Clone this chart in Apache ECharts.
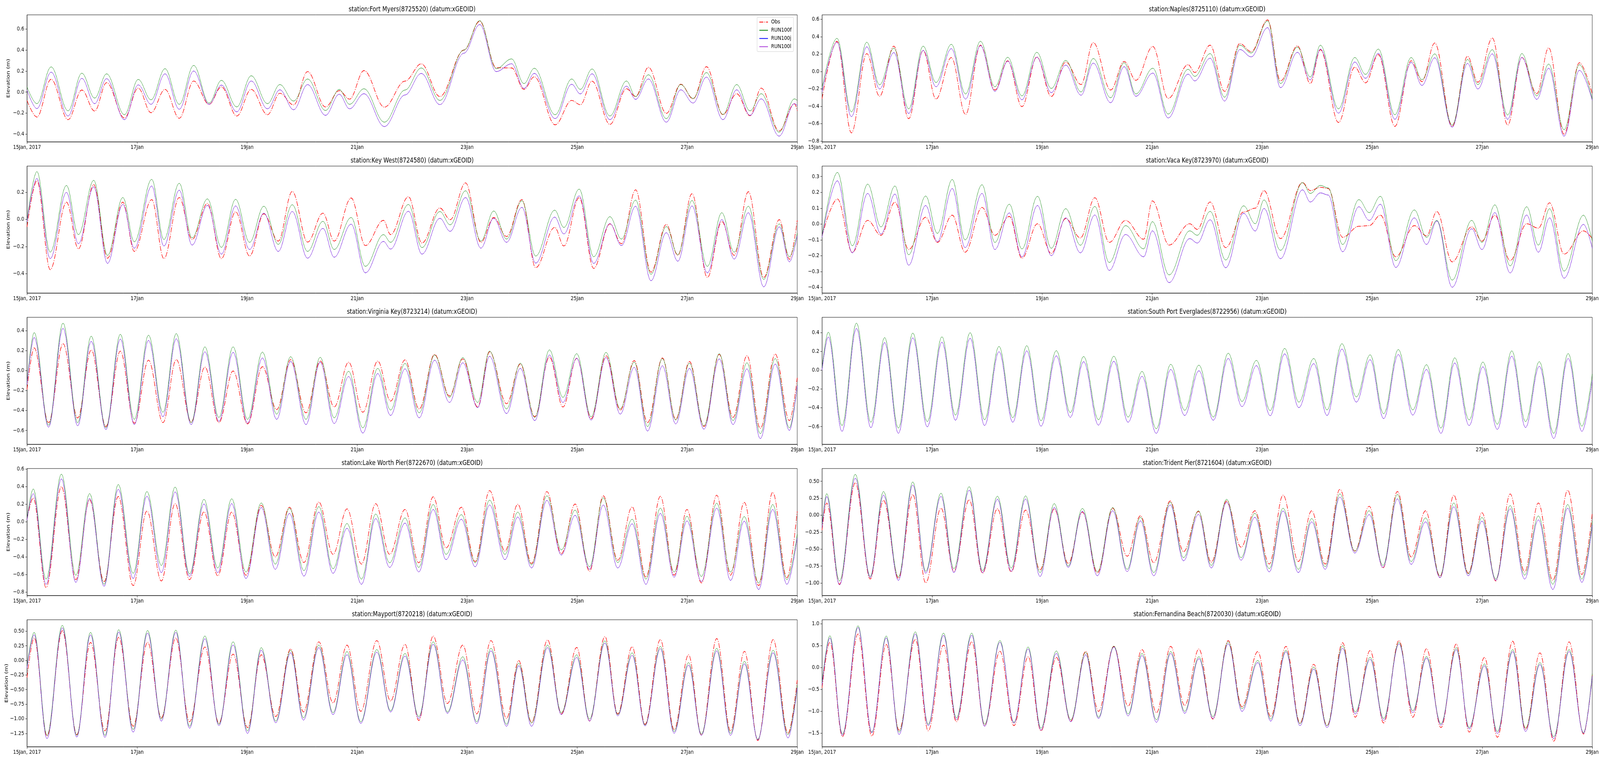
<!DOCTYPE html>
<html><head><meta charset="utf-8">
<script src="https://cdn.jsdelivr.net/npm/echarts@6/dist/echarts.min.js"></script>
<style>html,body{margin:0;padding:0;background:#fff;overflow:hidden}#c{width:5150px;height:1950px;transform-origin:0 0}</style>
</head><body><div id="c"></div>
<script>
// ---------- DATA (hours since 15 Jan 2017 00:00, elevation in m) ----------
const xTickHours = [0, 48, 96, 144, 192, 240, 288, 336];
const xTickLabels = ["15Jan, 2017", "17Jan", "19Jan", "21Jan", "23Jan", "25Jan", "27Jan", "29Jan"];
const seriesNames = ["Obs", "RUN100f", "RUN100j", "RUN100l"];
const stationTitles = [
  "station:Fort Myers(8725520) (datum:xGEOID)",
  "station:Naples(8725110) (datum:xGEOID)",
  "station:Key West(8724580) (datum:xGEOID)",
  "station:Vaca Key(8723970) (datum:xGEOID)",
  "station:Virginia Key(8723214) (datum:xGEOID)",
  "station:South Port Everglades(8722956) (datum:xGEOID)",
  "station:Lake Worth Pier(8722670) (datum:xGEOID)",
  "station:Trident Pier(8721604) (datum:xGEOID)",
  "station:Mayport(8720218) (datum:xGEOID)",
  "station:Fernandina Beach(8720030) (datum:xGEOID)"
];

// Fort Myers
const fortMyersT = [0,4.3,10.5,17.9,23.9,29.5,34.7,42.5,48.5,54.1,60.2,66.4,72.7,79.4,84.8,91.5,97.8,104.9,110.3,116.3,122.4,130.2,136.2,140.7,147.0,155.9,164.9,172.0,180.1,190.6,197.5,204.7,211.4,216.8,221.3,230.4,237.6,241.4,246.5,254.3,261.5,265.5,271.1,278.9,285.2,290.6,296.4,303.6,309.6,315.4,320.3,328.1,334.8,336];
const fortMyersObs = [-0.08,-0.237,0.122,-0.262,0.02,-0.18,0.09,-0.246,0.038,-0.196,0.026,-0.249,0.106,-0.116,0.05,-0.227,0.026,-0.215,-0.011,-0.122,0.195,-0.141,0.014,-0.067,0.205,-0.143,0.105,0.269,-0.042,0.40,0.674,0.232,0.23,0.026,0.146,-0.311,-0.079,-0.12,0.104,-0.307,0.032,-0.042,0.236,-0.202,0.075,-0.064,0.242,-0.215,-0.015,-0.225,0.038,-0.369,-0.11,-0.178];
const fortMyersF = [0.05,-0.11,0.24,-0.178,0.18,-0.057,0.174,-0.215,0.121,-0.073,0.223,-0.116,0.254,-0.104,0.112,-0.141,0.156,-0.11,0.072,-0.085,0.125,-0.175,0.026,-0.116,0.032,-0.286,0.02,0.23,-0.079,0.40,0.68,0.223,0.316,0.081,0.227,-0.215,0.125,0.026,0.22,-0.227,0.106,-0.042,0.165,-0.252,0.072,-0.06,0.186,-0.212,0.072,-0.178,-0.015,-0.381,-0.064,-0.079];
const fortMyersL = [0.02,-0.157,0.19,-0.227,0.131,-0.11,0.128,-0.262,0.069,-0.116,0.174,-0.163,0.201,-0.116,0.067,-0.188,0.106,-0.159,0.022,-0.168,0.072,-0.221,-0.02,-0.159,-0.015,-0.328,-0.027,0.178,-0.119,0.37,0.643,0.195,0.27,0.035,0.178,-0.252,0.075,-0.017,0.174,-0.262,0.057,-0.069,0.125,-0.286,0.022,-0.104,0.143,-0.262,0.022,-0.221,-0.064,-0.419,-0.11,-0.128];
const fortMyersJ = fortMyersL;

// Naples
const naplesT = [0,6.5,12.8,19.5,25.1,31.3,37.8,44.1,49.7,56.4,62.6,69.1,75.4,81.0,87.2,93.7,100.0,106.3,113.0,118.3,125.9,131.8,136.9,144.3,151.0,159.7,162.6,169.3,175.6,182.3,187.2,194.4,200.0,207.4,213.0,217.4,225.3,232.4,237.1,242.7,249.9,257.0,261.7,267.3,274.9,281.6,286.1,292.4,299.1,305.3,311.8,317.0,323.7,330.4,336];
const naplesObs = [-0.315,0.347,-0.707,0.205,-0.286,0.291,-0.543,0.242,-0.318,0.16,-0.495,0.302,-0.214,0.123,-0.405,0.167,-0.288,0.108,-0.151,0.332,-0.214,0.115,-0.102,0.287,-0.311,0.078,-0.012,0.302,-0.229,0.321,0.227,0.593,-0.109,0.294,-0.139,0.25,-0.587,0.048,-0.131,0.193,-0.632,0.123,-0.117,0.327,-0.632,0.175,-0.124,0.384,-0.617,0.16,-0.256,0.272,-0.722,0.1,-0.259];
const naplesF = [-0.19,0.381,-0.465,0.336,-0.154,0.268,-0.43,0.291,-0.127,0.312,-0.259,0.347,-0.176,0.163,-0.281,0.22,-0.196,0.127,-0.236,0.149,-0.303,0.1,-0.259,0.037,-0.49,0.025,-0.057,0.205,-0.296,0.302,0.212,0.581,-0.139,0.28,-0.064,0.302,-0.43,0.16,-0.034,0.257,-0.498,0.16,-0.094,0.202,-0.617,0.138,-0.151,0.25,-0.501,0.205,-0.281,0.085,-0.67,0.078,-0.318];
const naplesL = [-0.236,0.336,-0.52,0.283,-0.202,0.217,-0.483,0.242,-0.176,0.262,-0.318,0.297,-0.229,0.118,-0.326,0.163,-0.244,0.073,-0.274,0.096,-0.36,0.055,-0.286,-0.019,-0.535,-0.031,-0.109,0.152,-0.341,0.253,0.167,0.504,-0.187,0.22,-0.097,0.257,-0.48,0.108,-0.079,0.208,-0.55,0.103,-0.161,0.157,-0.64,0.093,-0.202,0.202,-0.55,0.16,-0.321,0.037,-0.744,0.013,-0.333];
const naplesJ = naplesL;

// Key West
const keyWestT = [0,4.3,10.1,17.2,22.4,29.1,35.1,41.8,46.8,54.4,59.7,66.4,72.0,78.7,84.8,91.0,97.1,103.3,109.6,115.7,122.4,129.1,134.0,141.4,147.6,155.5,158.6,166.4,172.3,180.1,184.6,191.3,198.0,203.6,209.2,215.9,221.9,230.2,234.2,240.9,247.2,254.3,259.3,265.5,272.2,278.9,283.9,290.1,296.8,303.1,308.5,314.7,321.4,328.2,332.6,336];
const keyWestObs = [-0.055,0.285,-0.37,0.127,-0.217,0.256,-0.286,0.127,-0.236,0.146,-0.289,0.161,-0.148,0.118,-0.289,0.056,-0.27,0.041,-0.16,0.206,-0.167,0.046,-0.16,0.158,-0.193,-0.007,-0.112,0.167,-0.174,0.084,-0.002,0.269,-0.169,0.014,-0.126,0.146,-0.356,-0.059,-0.196,0.161,-0.361,-0.033,-0.179,0.218,-0.389,-0.037,-0.265,0.189,-0.428,-0.016,-0.265,0.204,-0.428,-0.002,-0.294,-0.007];
const keyWestF = [-0.007,0.352,-0.241,0.25,-0.112,0.288,-0.265,0.161,-0.165,0.295,-0.148,0.266,-0.136,0.151,-0.206,0.148,-0.169,0.097,-0.184,0.108,-0.236,-0.014,-0.222,0.014,-0.346,-0.112,-0.169,0.11,-0.208,0.058,-0.04,0.211,-0.16,0.062,-0.145,0.137,-0.27,0.068,-0.059,0.223,-0.275,0.02,-0.145,0.142,-0.404,-0.053,-0.26,0.139,-0.346,0.049,-0.241,0.097,-0.442,-0.033,-0.275,-0.102];
const keyWestL = [-0.016,0.301,-0.289,0.199,-0.179,0.24,-0.324,0.11,-0.212,0.246,-0.196,0.215,-0.189,0.103,-0.256,0.099,-0.222,0.046,-0.236,0.058,-0.286,-0.066,-0.279,-0.035,-0.394,-0.162,-0.219,0.06,-0.256,0.008,-0.088,0.161,-0.212,0.008,-0.169,0.089,-0.322,0.017,-0.107,0.173,-0.324,-0.031,-0.193,0.097,-0.452,-0.098,-0.308,0.099,-0.394,-0.002,-0.292,0.049,-0.497,-0.055,-0.313,-0.122];
const keyWestJ = keyWestL;

// Vaca Key
const vacaKeyT = [0,6.7,13.2,19.9,25.7,31.8,37.8,45.2,50.3,56.8,62.4,69.8,75.4,81.7,87.2,94.0,100.0,106.3,112.7,119.0,125.3,132.4,140.3,144.1,151.4,160.4,163.7,169.3,176.1,183.9,189.0,192.8,200.0,209.6,213.0,217.4,220.8,227.1,234.2,238.7,243.6,250.3,258.4,263.7,268.2,274.9,283.4,287.9,293.5,300.2,307.4,312.5,317.4,323.7,332.2,336];
const vacaKeyObs = [-0.075,0.158,-0.178,0.023,-0.071,0.138,-0.161,0.043,-0.116,0.056,-0.178,0.105,-0.071,0.048,-0.216,0.002,-0.186,0.035,-0.088,0.166,-0.116,0.023,-0.096,0.146,-0.133,0.002,-0.034,0.139,-0.149,0.076,0.1,0.211,-0.092,0.262,0.211,0.232,0.224,-0.084,-0.014,-0.01,0.056,-0.207,-0.01,-0.075,0.079,-0.239,-0.018,-0.108,0.056,-0.231,0.002,-0.026,0.134,-0.19,-0.043,-0.092];
const vacaKeyF = [-0.075,0.326,-0.137,0.252,-0.018,0.24,-0.194,0.177,-0.059,0.281,-0.1,0.248,-0.116,0.125,-0.157,0.175,-0.153,0.097,-0.134,0.111,-0.243,-0.01,-0.157,0.015,-0.321,-0.043,-0.071,0.08,-0.227,0.115,0.002,0.152,-0.166,0.261,0.193,0.244,0.228,-0.129,0.154,0.072,0.175,-0.231,0.089,-0.084,0.023,-0.354,0.023,-0.116,0.121,-0.264,0.109,-0.133,0.097,-0.297,0.056,-0.108];
const vacaKeyL = [-0.084,0.273,-0.182,0.193,-0.063,0.189,-0.26,0.117,-0.112,0.224,-0.149,0.193,-0.161,0.07,-0.207,0.117,-0.2,0.039,-0.182,0.057,-0.293,-0.066,-0.207,-0.043,-0.37,-0.092,-0.12,0.027,-0.276,0.068,-0.044,0.098,-0.219,0.216,0.139,0.197,0.183,-0.175,0.109,0.023,0.125,-0.274,0.039,-0.129,0.019,-0.399,-0.03,-0.161,0.072,-0.309,0.057,-0.178,0.039,-0.342,-0.002,-0.153];
const vacaKeyJ = vacaKeyL;

// Virginia Key
const virginiaKeyT = [0,3.1,9.4,15.7,22.1,28.0,34.4,40.7,46.8,53.0,59.3,65.1,71.6,77.6,83.7,89.9,96.2,102.7,108.9,115.0,121.7,127.9,134.0,140.3,146.5,153.0,158.6,164.9,171.1,177.8,184.3,190.1,196.6,201.8,209.2,215.2,221.5,227.9,233.8,239.8,246.1,252.6,258.8,264.9,270.7,277.2,283.0,289.0,295.3,302.0,308.0,314.1,319.9,326.4,332.6,336];
const virginiaKeyObs = [-0.19,0.226,-0.521,0.268,-0.475,0.206,-0.56,0.194,-0.527,0.103,-0.521,0.109,-0.514,0.034,-0.521,-0.005,-0.534,0.038,-0.391,0.109,-0.423,0.096,-0.365,0.083,-0.417,0.094,-0.306,0.106,-0.384,0.161,-0.255,0.116,-0.365,0.187,-0.332,0.064,-0.462,0.135,-0.365,0.122,-0.482,0.148,-0.397,0.099,-0.521,0.125,-0.488,0.09,-0.56,0.161,-0.469,0.148,-0.579,0.164,-0.501,-0.073];
const virginiaKeyF = [-0.125,0.379,-0.547,0.473,-0.521,0.343,-0.573,0.362,-0.488,0.353,-0.417,0.369,-0.521,0.236,-0.469,0.236,-0.488,0.184,-0.436,0.138,-0.488,0.132,-0.473,-0.008,-0.573,0.021,-0.395,0.07,-0.423,0.155,-0.268,0.129,-0.319,0.194,-0.384,0.073,-0.469,0.206,-0.268,0.168,-0.462,0.181,-0.384,0.083,-0.56,0.119,-0.495,0.073,-0.553,0.168,-0.501,0.077,-0.631,0.119,-0.573,-0.144];
const virginiaKeyL = [-0.138,0.33,-0.566,0.421,-0.553,0.291,-0.59,0.314,-0.54,0.301,-0.462,0.317,-0.54,0.187,-0.508,0.181,-0.527,0.125,-0.488,0.09,-0.54,0.083,-0.53,-0.06,-0.625,-0.031,-0.449,0.016,-0.473,0.103,-0.319,0.077,-0.371,0.142,-0.43,0.021,-0.501,0.155,-0.319,0.122,-0.495,0.129,-0.436,0.031,-0.605,0.047,-0.534,0.021,-0.586,0.116,-0.54,0.016,-0.681,0.064,-0.599,-0.151];
const virginiaKeyJ = virginiaKeyL;

// South Port Everglades (no observations)
const portEvergladesT = [0,2.7,8.7,15.0,21.3,27.3,33.3,39.6,45.9,52.3,58.2,64.6,70.9,77.2,83.2,89.3,95.5,102.2,108.3,114.1,120.6,127.3,133.5,139.6,145.8,152.1,158.2,164.4,170.7,177.2,183.2,189.5,195.5,201.8,208.0,214.5,220.3,226.8,233.1,239.1,245.0,251.4,257.7,263.7,270.0,276.0,282.3,288.3,294.6,300.9,306.9,312.9,319.2,325.5,331.5,336];
const portEvergladesObs = null;
const portEvergladesF = [0.028,0.404,-0.588,0.5,-0.553,0.346,-0.615,0.394,-0.546,0.354,-0.477,0.398,-0.526,0.252,-0.505,0.26,-0.537,0.207,-0.45,0.145,-0.526,0.148,-0.498,-0.014,-0.622,0.062,-0.426,0.053,-0.498,0.18,-0.332,0.104,-0.429,0.231,-0.339,0.124,-0.422,0.281,-0.284,0.163,-0.463,0.219,-0.422,0.058,-0.615,0.131,-0.528,0.086,-0.574,0.205,-0.546,0.09,-0.671,0.176,-0.595,-0.041];
const portEvergladesL = [0,0.353,-0.65,0.443,-0.611,0.293,-0.671,0.343,-0.602,0.297,-0.532,0.339,-0.588,0.196,-0.553,0.205,-0.595,0.152,-0.501,0.09,-0.584,0.094,-0.553,-0.066,-0.671,0.007,-0.481,-0.007,-0.532,0.124,-0.387,0.048,-0.484,0.173,-0.398,0.069,-0.481,0.224,-0.339,0.111,-0.515,0.166,-0.477,0.007,-0.671,0.076,-0.588,0.035,-0.629,0.149,-0.609,0.041,-0.726,0.124,-0.65,-0.11];
const portEvergladesJ = portEvergladesL;

// Lake Worth Pier
const lakeWorthT = [0,2.7,8.3,15.0,21.3,27.3,33.6,39.8,46.3,52.3,58.6,64.6,70.9,77.2,83.2,89.3,95.5,102.2,108.3,114.5,120.8,127.3,133.5,139.6,145.9,152.1,158.2,164.9,170.9,177.2,182.8,189.5,195.5,201.8,208.5,214.1,220.1,226.8,233.1,239.1,245.4,251.4,257.7,264.0,270.0,276.3,282.3,287.9,294.2,300.9,306.9,312.9,319.2,325.3,331.5,336];
const lakeWorthObs = [0.028,0.269,-0.747,0.397,-0.658,0.249,-0.68,0.286,-0.725,0.121,-0.673,0.205,-0.658,0.112,-0.614,0.109,-0.607,0.186,-0.4,0.165,-0.463,0.224,-0.37,0.146,-0.481,0.205,-0.37,0.139,-0.466,0.283,-0.297,0.164,-0.452,0.353,-0.334,0.198,-0.474,0.342,-0.363,0.201,-0.562,0.294,-0.437,0.168,-0.629,0.289,-0.607,0.139,-0.695,0.301,-0.607,0.22,-0.725,0.334,-0.636,0.117];
const lakeWorthF = [0.035,0.372,-0.651,0.54,-0.607,0.319,-0.71,0.422,-0.585,0.342,-0.496,0.393,-0.592,0.254,-0.525,0.26,-0.57,0.213,-0.481,0.154,-0.555,0.171,-0.533,-0.021,-0.651,0.087,-0.466,0.043,-0.518,0.195,-0.37,0.08,-0.466,0.245,-0.37,0.109,-0.489,0.294,-0.319,0.131,-0.511,0.272,-0.463,0.028,-0.651,0.154,-0.57,0.062,-0.621,0.21,-0.57,0.058,-0.695,0.195,-0.658,-0.142];
const lakeWorthL = [0.02,0.319,-0.71,0.486,-0.688,0.264,-0.732,0.368,-0.644,0.289,-0.577,0.338,-0.621,0.201,-0.577,0.205,-0.644,0.161,-0.54,0.094,-0.617,0.109,-0.585,-0.075,-0.71,0.035,-0.518,-0.016,-0.57,0.139,-0.43,0.028,-0.511,0.19,-0.43,0.053,-0.525,0.242,-0.378,0.072,-0.54,0.19,-0.525,-0.024,-0.71,0.094,-0.629,0.009,-0.68,0.154,-0.666,0.006,-0.769,0.139,-0.71,-0.186];
const lakeWorthJ = lakeWorthL;

// Trident Pier
const tridentT = [0,2.0,7.6,14.5,21.0,26.8,33.3,39.6,45.2,51.9,57.5,64.2,70.0,76.5,82.5,88.8,95.1,101.3,107.4,113.6,120.1,126.8,133.1,138.9,144.7,151.9,157.7,164.2,169.8,176.5,182.8,188.8,195.1,201.1,207.8,213.6,219.5,225.9,232.4,238.7,244.7,251.0,257.0,263.3,269.6,275.6,281.9,287.9,293.9,300.2,306.5,312.5,318.8,325.3,331.5,336];
const tridentObs = [-0.222,0.18,-1.017,0.477,-0.941,0.218,-0.931,0.305,-0.998,0.103,-0.826,0.228,-0.854,0.094,-0.835,0.075,-0.807,0.094,-0.711,0.046,-0.854,0.103,-0.605,-0.008,-0.701,0.209,-0.538,0.056,-0.692,0.209,-0.471,0.065,-0.72,0.295,-0.682,0.065,-0.72,0.381,-0.529,0.132,-0.778,0.349,-0.615,0.065,-0.912,0.295,-0.854,0.036,-0.969,0.314,-0.835,0.18,-0.96,0.368,-0.874,0.027];
const tridentF = [-0.146,0.318,-0.969,0.602,-0.902,0.349,-0.912,0.49,-0.826,0.324,-0.787,0.42,-0.816,0.28,-0.778,0.285,-0.845,0.17,-0.749,0.1,-0.835,0.113,-0.797,-0.031,-0.845,0.19,-0.625,0.065,-0.739,0.234,-0.625,0.027,-0.787,0.103,-0.797,-0.05,-0.759,0.314,-0.529,0.065,-0.739,0.305,-0.682,-0.04,-0.893,0.18,-0.864,-0.034,-0.941,0.142,-0.883,-0.011,-1.017,0.157,-0.941,-0.088];
const tridentL = [-0.18,0.276,-1.027,0.544,-0.921,0.295,-0.96,0.444,-0.854,0.276,-0.845,0.368,-0.845,0.234,-0.826,0.238,-0.902,0.113,-0.768,0.056,-0.893,0.065,-0.831,-0.084,-0.893,0.151,-0.672,0.011,-0.778,0.19,-0.663,-0.031,-0.835,0.061,-0.845,-0.098,-0.797,0.266,-0.557,0.008,-0.768,0.241,-0.724,-0.098,-0.921,0.123,-0.893,-0.088,-0.96,0.094,-0.941,-0.069,-1.094,0.103,-0.989,-0.146];
const tridentJ = tridentL;

// Mayport
const mayportT = [0,3.1,8.7,15.4,21.7,27.7,34.0,40.0,46.3,52.6,58.6,64.9,70.9,77.6,83.7,89.9,96.2,102.2,108.5,115.0,120.6,127.3,133.5,139.6,145.6,152.6,158.6,164.9,170.9,177.2,183.4,190.1,196.2,202.4,209.2,214.5,220.1,227.1,233.1,239.8,245.4,252.1,257.7,264.0,269.6,276.3,282.3,288.6,294.2,300.9,306.9,313.0,318.8,325.5,332.0,336];
const mayportObs = [-0.294,0.385,-1.294,0.507,-1.272,0.307,-1.206,0.396,-1.128,0.311,-0.983,0.385,-1.05,0.229,-1.072,0.107,-1.15,0.096,-0.961,0.196,-0.883,0.318,-0.727,0.262,-0.872,0.34,-0.694,0.274,-1.028,0.418,-0.738,0.262,-0.916,0.34,-0.994,-0.004,-1.061,0.351,-0.916,0.222,-1.039,0.407,-0.916,0.234,-1.094,0.356,-1.183,0.096,-1.277,0.374,-1.206,0.156,-1.372,0.356,-1.25,-0.338];
const mayportF = [-0.093,0.48,-1.283,0.6,-1.283,0.48,-1.283,0.525,-1.183,0.512,-1.005,0.518,-1.128,0.418,-1.094,0.318,-1.206,0.218,-1.039,0.173,-0.983,0.262,-0.894,0.151,-1.05,0.185,-0.861,0.118,-0.961,0.318,-0.883,0.062,-1.05,0.207,-1.094,-0.049,-1.072,0.262,-0.894,0.096,-1.005,0.334,-0.927,0.129,-1.105,0.24,-1.217,-0.038,-1.261,0.207,-1.25,-0.016,-1.35,0.173,-1.272,-0.427];
const mayportL = [-0.13,0.44,-1.339,0.556,-1.312,0.436,-1.317,0.485,-1.228,0.467,-1.039,0.48,-1.161,0.369,-1.117,0.262,-1.25,0.173,-1.068,0.129,-1.023,0.218,-0.927,0.096,-1.077,0.14,-0.883,0.073,-0.994,0.274,-0.905,0.007,-1.083,0.162,-1.128,-0.093,-1.128,0.218,-0.927,0.051,-1.039,0.296,-0.949,0.085,-1.121,0.2,-1.246,-0.082,-1.283,0.162,-1.283,-0.06,-1.361,0.129,-1.328,-0.472];
const mayportJ = mayportL;

// Fernandina Beach
const fernandinaT = [0,3.4,8.9,15.7,21.7,28.0,33.6,40.7,46.3,53.0,58.6,65.3,70.9,77.6,83.7,89.9,95.5,102.2,108.5,115.0,120.6,127.3,133.5,139.6,145.9,152.1,158.2,164.4,170.5,177.2,183.2,190.1,195.7,202.4,208.5,214.5,220.3,227.1,232.6,239.1,245.0,251.7,257.7,263.7,270.0,276.7,282.3,289.0,294.6,301.3,306.9,313.2,319.2,325.9,332.2,336];
const fernandinaObs = [-0.467,0.58,-1.581,0.767,-1.567,0.529,-1.433,0.648,-1.448,0.514,-1.24,0.589,-1.329,0.372,-1.329,0.247,-1.448,0.232,-1.225,0.372,-1.002,0.485,-0.883,0.41,-1.032,0.485,-0.868,0.425,-1.18,0.618,-0.898,0.366,-1.121,0.485,-1.269,0.074,-1.329,0.568,-1.136,0.389,-1.269,0.618,-1.136,0.431,-1.373,0.538,-1.477,0.232,-1.596,0.603,-1.418,0.336,-1.685,0.589,-1.522,-0.169];
const fernandinaF = [-0.348,0.728,-1.522,0.954,-1.477,0.722,-1.477,0.817,-1.299,0.788,-1.15,0.788,-1.299,0.618,-1.254,0.47,-1.388,0.38,-1.195,0.351,-1.136,0.49,-1.061,0.321,-1.195,0.366,-1.002,0.247,-1.121,0.589,-0.942,0.163,-1.18,0.395,-1.284,0.009,-1.329,0.5,-1.017,0.232,-1.165,0.574,-0.987,0.253,-1.284,0.455,-1.373,0.083,-1.463,0.41,-1.388,0.113,-1.581,0.41,-1.492,-0.14];
const fernandinaL = [-0.4,0.678,-1.552,0.916,-1.492,0.678,-1.531,0.767,-1.329,0.737,-1.195,0.737,-1.344,0.58,-1.269,0.425,-1.433,0.321,-1.24,0.291,-1.165,0.47,-1.106,0.271,-1.254,0.321,-1.046,0.202,-1.165,0.544,-1.002,0.113,-1.225,0.36,-1.329,-0.036,-1.373,0.44,-1.061,0.187,-1.21,0.538,-1.032,0.217,-1.314,0.41,-1.403,0.039,-1.507,0.366,-1.463,0.068,-1.626,0.366,-1.507,-0.199];
const fernandinaJ = fernandinaL;

// y tick values per panel
const yTicks = [
  [-0.4,-0.2,0,0.2,0.4,0.6],
  [-0.8,-0.6,-0.4,-0.2,0,0.2,0.4,0.6],
  [-0.4,-0.2,0,0.2],
  [-0.4,-0.3,-0.2,-0.1,0,0.1,0.2,0.3],
  [-0.6,-0.4,-0.2,0,0.2,0.4],
  [-0.6,-0.4,-0.2,0,0.2,0.4],
  [-0.8,-0.6,-0.4,-0.2,0,0.2,0.4,0.6],
  [-1.0,-0.75,-0.5,-0.25,0,0.25,0.5],
  [-1.25,-1.0,-0.75,-0.5,-0.25,0,0.25,0.5],
  [-1.5,-1.0,-0.5,0,0.5,1.0]
];
const yTickDecimals = [1,1,1,1,1,1,1,2,2,1];
const yLimits = [
  [-0.473,0.735],[-0.81,0.651],[-0.543,0.393],[-0.436,0.366],[-0.738,0.532],
  [-0.788,0.562],[-0.838,0.604],[-1.184,0.688],[-1.479,0.696],[-1.813,1.094]
];

const panels = [
  [fortMyersT, fortMyersObs, fortMyersF, fortMyersJ, fortMyersL],
  [naplesT, naplesObs, naplesF, naplesJ, naplesL],
  [keyWestT, keyWestObs, keyWestF, keyWestJ, keyWestL],
  [vacaKeyT, vacaKeyObs, vacaKeyF, vacaKeyJ, vacaKeyL],
  [virginiaKeyT, virginiaKeyObs, virginiaKeyF, virginiaKeyJ, virginiaKeyL],
  [portEvergladesT, portEvergladesObs, portEvergladesF, portEvergladesJ, portEvergladesL],
  [lakeWorthT, lakeWorthObs, lakeWorthF, lakeWorthJ, lakeWorthL],
  [tridentT, tridentObs, tridentF, tridentJ, tridentL],
  [mayportT, mayportObs, mayportF, mayportJ, mayportL],
  [fernandinaT, fernandinaObs, fernandinaF, fernandinaJ, fernandinaL]
];

// ---------- LAYOUT / STYLE ----------
const FIG_W = 5150, FIG_H = 1950;
const FONT = 'DejaVu Sans';
const colLeft = [87, 2646];
const gridW = 2479;
const rowTop = [38, 425, 812, 1199, 1586];
const gridH = 325;
const lineStyles = [
  {color: '#ff0000', width: 1.6, type: [13, 3.3, 2, 3.3]},
  {color: '#008000', width: 1},
  {color: '#0000ff', width: 1},
  {color: '#a838d8', width: 1}
];

// the browser window may be narrower than the figure: fit the figure to it
const host = document.getElementById('c');
const kx = Math.min(1, (window.innerWidth || FIG_W) / FIG_W);
const ky = Math.min(1, (window.innerHeight || FIG_H) / FIG_H);
host.style.transform = 'scale(' + kx + ',' + ky + ')';

const chart = echarts.init(host, null, {renderer: 'canvas', width: FIG_W, height: FIG_H});

const grids = [], xAxes = [], yAxes = [], titles = [], series = [];
const fmtY = (v, d) => (v < 0 ? '\u2212' : '') + Math.abs(v).toFixed(d);

panels.forEach((p, i) => {
  const col = i % 2, row = Math.floor(i / 2);
  grids.push({left: colLeft[col], top: rowTop[row], width: gridW, height: gridH,
    show: true, borderColor: '#000', borderWidth: 1, backgroundColor: 'transparent'});
  titles.push({text: stationTitles[i], left: colLeft[col] + gridW / 2, top: rowTop[row] - 23,
    textAlign: 'center', padding: 0,
    textStyle: {fontFamily: FONT, fontSize: 17.9, fontWeight: 'normal', color: '#000'}});
  xAxes.push({gridIndex: i, type: 'value', min: 0, max: 336, interval: 48,
    axisLine: {show: true, onZero: false, lineStyle: {color: '#000', width: 1}},
    axisTick: {show: true, length: 5, lineStyle: {color: '#000', width: 1}},
    axisLabel: {show: true, margin: 7, color: '#000', fontFamily: FONT, fontSize: 14.9,
      showMinLabel: true, showMaxLabel: true, hideOverlap: false,
      formatter: v => { const k = xTickHours.indexOf(Math.round(v)); return k >= 0 ? xTickLabels[k] : ''; }},
    splitLine: {show: false}});
  const d = yTickDecimals[i];
  yAxes.push({gridIndex: i, type: 'value', min: yLimits[i][0], max: yLimits[i][1],
    name: col === 0 ? 'Elevation (m)' : '', nameLocation: 'middle', nameRotate: 90, nameGap: 52,
    nameTextStyle: {fontFamily: FONT, fontSize: 14.9, color: '#000'},
    axisLine: {show: true, onZero: false, lineStyle: {color: '#000', width: 1}},
    axisTick: {show: true, length: 5, customValues: yTicks[i], lineStyle: {color: '#000', width: 1}},
    axisLabel: {show: true, margin: 9, color: '#000', fontFamily: FONT, fontSize: 14.9,
      customValues: yTicks[i], formatter: v => fmtY(v, d)},
    splitLine: {show: false}});
  const T = p[0];
  for (let s = 0; s < 4; s++) {
    const vals = p[s + 1];
    if (!vals) continue;
    series.push({name: seriesNames[s], type: 'line', xAxisIndex: i, yAxisIndex: i,
      data: T.map((t, k) => [t, vals[k]]),
      symbol: 'none', showSymbol: false, smooth: 0.36, smoothMonotone: 'x',
      lineStyle: lineStyles[s], itemStyle: {color: lineStyles[s].color},
      z: 2 + s, silent: true, clip: true});
  }
});

chart.setOption({
  animation: false,
  backgroundColor: '#fff',
  title: titles,
  grid: grids,
  xAxis: xAxes,
  yAxis: yAxes,
  legend: {show: true, orient: 'vertical', left: 2437, top: 44, data: seriesNames,
    itemWidth: 28, itemHeight: 15, itemGap: 6, padding: [5, 6, 5, 6],
    borderColor: '#cccccc', borderWidth: 1, borderRadius: 3, backgroundColor: 'rgba(255,255,255,0.8)',
    selectedMode: false, itemStyle: {opacity: 0},
    textStyle: {fontFamily: FONT, fontSize: 14.9, color: '#000', padding: [0, 0, 0, 5]}},
  series: series
});
</script>
</body></html>
